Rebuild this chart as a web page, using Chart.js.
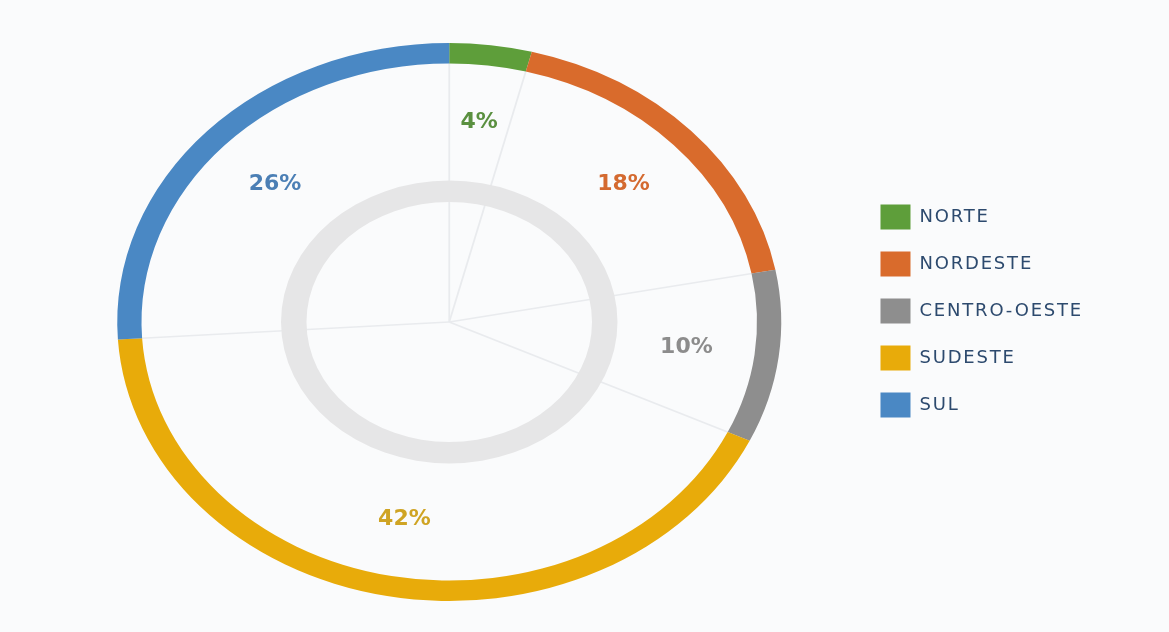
<!DOCTYPE html>
<html>
<head>
<meta charset="utf-8">
<script src="https://cdn.jsdelivr.net/npm/chart.js@4.4.0/dist/chart.umd.min.js"></script>
<style>
    html, body { margin: 0; padding: 0; background: #fafbfc; }
    #wrap { width: 1169px; height: 632px; }
</style>
</head>
<body>
<div id="wrap"><canvas id="chartRegioes"></canvas></div>
<script>
const labels = ["NORTE", "NORDESTE", "CENTRO-OESTE", "SUDESTE", "SUL"];
const values = [4, 18, 10, 42, 26];
const pctLabels = ["4%", "18%", "10%", "42%", "26%"];

const colors     = ['#5e9e3a', '#d96b2c', '#8e8e8e', '#e8ab0a', '#4a88c4'];
const textColors = ['#5a9040', '#d46a30', '#8c8c8c', '#cfa424', '#4b7fb5'];
const SX = 1.19; // the reference ring is an ellipse, wider than tall
const LEGEND_SPACING = '1.8px'; // legend font is wide in the reference

const ellipse = {
    id: 'ellipse',
    beforeUpdate(chart) {
        chart.ctx.letterSpacing = LEGEND_SPACING;
    },
    afterLayout(chart) {
        chart.ctx.letterSpacing = '0px';
        // legend sits a little above the ring centre in the reference
        chart.legend.top -= 11;
        chart.legend.bottom -= 11;
    },
    beforeDraw(chart) {
        chart.ctx.letterSpacing = LEGEND_SPACING;
    },
    beforeDatasetsDraw(chart) {
        const ctx = chart.ctx;
        ctx.letterSpacing = '0px';
        const arcs = chart.getDatasetMeta(0).data;
        const cx = arcs[0].x, cy = arcs[0].y, r = arcs[0].outerRadius;
        ctx.save();
        ctx.translate(cx, cy);
        ctx.scale(SX, 1);
        ctx.translate(-cx, -cy);
        // thin spokes at the segment borders
        ctx.strokeStyle = '#e9ebee';
        ctx.lineWidth = 1.5;
        arcs.forEach(a => {
            ctx.beginPath();
            ctx.moveTo(cx, cy);
            ctx.lineTo(cx + r * Math.cos(a.startAngle), cy + r * Math.sin(a.startAngle));
            ctx.stroke();
        });
    },
    afterDatasetsDraw(chart) {
        const ctx = chart.ctx;
        ctx.restore();
        const arcs = chart.getDatasetMeta(0).data;
        const cx = arcs[0].x, cy = arcs[0].y, r = arcs[0].outerRadius * 0.72;
        ctx.save();
        ctx.textAlign = 'center';
        ctx.textBaseline = 'middle';
        ctx.font = 'bold 22px "DejaVu Sans"';
        arcs.forEach((a, i) => {
            const mid = (a.startAngle + a.endAngle) / 2;
            ctx.fillStyle = textColors[i];
            ctx.fillText(pctLabels[i], cx + SX * r * Math.cos(mid), cy + r * Math.sin(mid));
        });
        ctx.restore();
    }
};

new Chart(document.getElementById("chartRegioes"), {
    type: 'doughnut',
    data: {
        labels  : labels,
        datasets: [{
            data           : values,
            backgroundColor: colors,
            borderWidth    : 0,
            weight         : 20
        }, {
            data           : [1],
            backgroundColor: 'rgba(0,0,0,0)',
            borderWidth    : 0,
            weight         : 115
        }, {
            data           : [1],
            backgroundColor: '#e6e6e7',
            borderWidth    : 0,
            weight         : 21
        }]
    },
    options: {
        responsive         : true,
        maintainAspectRatio: false,
        animation          : false,
        cutout             : '43%',
        layout             : { padding: { left: 40, right: 76, top: 43, bottom: 31 } },
        plugins: {
            tooltip: { enabled: false },
            legend : {
                position: 'right',
                labels  : {
                    boxWidth : 30,
                    boxHeight: 25,
                    padding  : 22,
                    color    : '#2d4a6e',
                    font     : { family: 'DejaVu Sans', size: 18 }
                }
            }
        }
    },
    plugins: [ellipse]
});
</script>
</body>
</html>
